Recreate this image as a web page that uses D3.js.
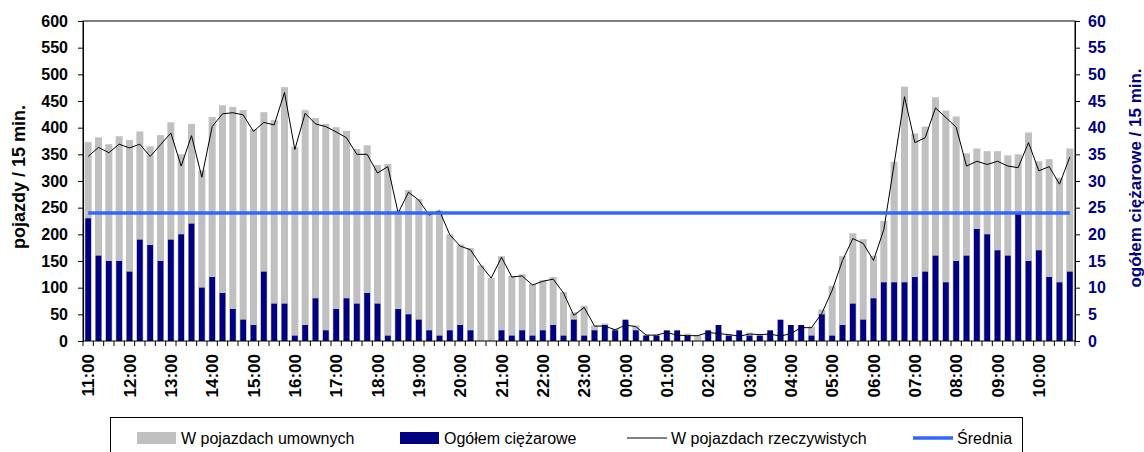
<!DOCTYPE html>
<html>
<head>
<meta charset="utf-8">
<script src="https://cdn.jsdelivr.net/npm/d3@7"></script>
<style>
  body { margin: 0; background: #fff; }
  text { font-family: Arial, "Liberation Sans", sans-serif; }
</style>
</head>
<body>
<div id="chart"></div>
<script>
// hour labels on the x axis, every hour has four 15-minute slots
const tickLabels = ["11:00","12:00","13:00","14:00","15:00","16:00","17:00","18:00",
  "19:00","20:00","21:00","22:00","23:00","00:00","01:00","02:00","03:00","04:00",
  "05:00","06:00","07:00","08:00","09:00","10:00"];

// W pojazdach umownych (left axis)
const umowne = [373,382,369,384,377,393,365,386,410,350,
  407,320,420,442,439,433,397,429,414,476,
  364,433,418,407,401,394,360,367,330,332,
  245,283,266,239,245,200,181,174,142,118,
  159,122,125,107,114,120,92,54,66,29,
  33,23,35,29,12,12,19,13,14,10,
  18,17,13,12,16,12,15,14,18,29,
  27,59,103,159,202,191,160,225,336,477,
  389,402,457,432,421,352,361,356,356,348,
  350,391,337,341,306,361];

// Ogółem ciężarowe (right axis)
const ciezarowe = [23,16,15,15,13,19,18,15,19,20,
  22,10,12,9,6,4,3,13,7,7,
  1,3,8,2,6,8,7,9,7,1,
  6,5,4,2,1,2,3,2,0,0,
  2,1,2,1,2,3,1,4,1,2,
  3,2,4,2,1,1,2,2,1,0,
  2,3,1,2,1,1,2,4,3,3,
  1,5,1,3,7,4,8,11,11,11,
  12,13,16,11,15,16,21,20,17,16,
  24,15,17,12,11,13];

// W pojazdach rzeczywistych (left axis)
const rzeczywiste = [346,363,353,369,362,369,346,368,390,328,
  385,307,402,426,428,424,393,410,405,466,
  359,427,407,402,392,381,350,350,315,327,
  240,279,264,236,244,199,178,171,142,118,
  157,120,122,105,112,116,90,48,63,28,
  28,21,30,27,11,11,16,11,10,10,
  16,14,12,9,13,12,13,9,14,25,
  25,52,95,151,192,183,151,209,332,458,
  372,381,437,419,401,328,337,331,337,328,
  325,372,319,327,294,345];

const srednia = 240;

const slots = [];
tickLabels.forEach(h => ["00","15","30","45"].forEach(m => slots.push(h.slice(0, 3) + m)));

const W = 1144, H = 452;
const margin = { top: 21, right: 69, bottom: 111, left: 83 },
      width = W - margin.left - margin.right,
      height = H - margin.top - margin.bottom;

const svg = d3.select("#chart").append("svg")
    .attr("width", W)
    .attr("height", H);

const g = svg.append("g")
    .attr("transform", `translate(${margin.left},${margin.top})`);

const x = d3.scaleBand().domain(slots).range([0, width]);
const yL = d3.scaleLinear().domain([0, 600]).range([height, 0]);
const yR = d3.scaleLinear().domain([0, 60]).range([height, 0]);

const grayW = x.step() * 0.68, navyW = x.step() * 0.56;

// bars
g.selectAll(".bar-u")
  .data(umowne)
  .enter().append("rect")
    .attr("x", (d, i) => x(slots[i]) + (x.step() - grayW) / 2)
    .attr("width", grayW)
    .attr("y", d => yL(d))
    .attr("height", d => height - yL(d))
    .attr("fill", "#c0c0c0");

g.selectAll(".bar-c")
  .data(ciezarowe)
  .enter().append("rect")
    .attr("x", (d, i) => x(slots[i]) + (x.step() - navyW) / 2)
    .attr("width", navyW)
    .attr("y", d => yR(d))
    .attr("height", d => height - yR(d))
    .attr("fill", "#000080");

const cx = i => x(slots[i]) + x.bandwidth() / 2;

g.append("path")
  .datum(rzeczywiste)
  .attr("fill", "none")
  .attr("stroke", "#000")
  .attr("stroke-width", 1)
  .attr("d", d3.line().x((d, i) => cx(i)).y(d => yL(d)));

g.append("path")
  .datum(slots.map(() => srednia))
  .attr("fill", "none")
  .attr("stroke", "#3366ff")
  .attr("stroke-width", 3.5)
  .attr("d", d3.line().x((d, i) => cx(i)).y(d => yL(d)));

// plot frame
g.append("rect")
  .attr("x", 0).attr("y", 0)
  .attr("width", width).attr("height", height)
  .attr("fill", "none").attr("stroke", "#000");

// left axis
const axL = g.append("g")
  .call(d3.axisLeft(yL).tickValues(d3.range(0, 601, 50)).tickSize(5).tickSizeOuter(0).tickPadding(10));
axL.selectAll("text").attr("font-size", 16).attr("font-weight", "bold").attr("fill", "#000");

// right axis
const axR = g.append("g")
  .attr("transform", `translate(${width},0)`)
  .call(d3.axisRight(yR).tickValues(d3.range(0, 61, 5)).tickSize(5).tickSizeOuter(0).tickPadding(8));
axR.selectAll("text").attr("font-size", 16).attr("font-weight", "bold").attr("fill", "#000080");

[axL, axR].forEach(a => {
  a.select(".domain").attr("stroke", "#000");
  a.selectAll("line").attr("stroke", "#000");
  a.attr("font-family", null);
});

// x axis: ticks between categories, labels every hour
const axX = g.append("g")
  .attr("transform", `translate(0,${height})`);

axX.selectAll("line")
  .data(d3.range(slots.length + 1))
  .enter().append("line")
    .attr("x1", i => i * x.step()).attr("x2", i => i * x.step())
    .attr("y1", 0).attr("y2", 5)
    .attr("stroke", "#000");

axX.selectAll("text")
  .data(tickLabels)
  .enter().append("text")
    .attr("transform", d => `translate(${x(d) + x.bandwidth() / 2},13) rotate(-90)`)
    .attr("text-anchor", "end")
    .attr("dy", "0.36em")
    .attr("font-size", 17)
    .attr("font-weight", "bold")
    .text(d => d);

// axis titles
svg.append("text")
  .attr("transform", `translate(25,${margin.top + height / 2 - 4}) rotate(-90)`)
  .attr("text-anchor", "middle")
  .attr("font-size", 18)
  .attr("font-weight", "bold")
  .text("pojazdy / 15 min.");

svg.append("text")
  .attr("transform", `translate(1141,${margin.top + height / 2 - 3}) rotate(-90)`)
  .attr("text-anchor", "middle")
  .attr("font-size", 17)
  .attr("font-weight", "bold")
  .attr("fill", "#000080")
  .text("ogółem ciężarowe / 15 min.");

// legend
const legend = svg.append("g");
legend.append("rect")
  .attr("x", 110.5).attr("y", 417.5)
  .attr("width", 912).attr("height", 60)
  .attr("fill", "#fff").attr("stroke", "#000");

const items = [
  { name: "W pojazdach umownych", type: "rect", color: "#c0c0c0", x: 137 },
  { name: "Ogółem ciężarowe", type: "rect", color: "#000080", x: 400 },
  { name: "W pojazdach rzeczywistych", type: "line", color: "#000", w: 1, x: 627 },
  { name: "Średnia", type: "line", color: "#3366ff", w: 3.5, x: 913 }
];

items.forEach(it => {
  if (it.type === "rect") {
    legend.append("rect")
      .attr("x", it.x).attr("y", 432)
      .attr("width", 39).attr("height", 12)
      .attr("fill", it.color);
  } else {
    legend.append("line")
      .attr("x1", it.x).attr("x2", it.x + 40)
      .attr("y1", 438).attr("y2", 438)
      .attr("stroke", it.color).attr("stroke-width", it.w);
  }
  legend.append("text")
    .attr("x", it.x + 44).attr("y", 444)
    .attr("font-size", 16)
    .text(it.name);
});
</script>
</body>
</html>
